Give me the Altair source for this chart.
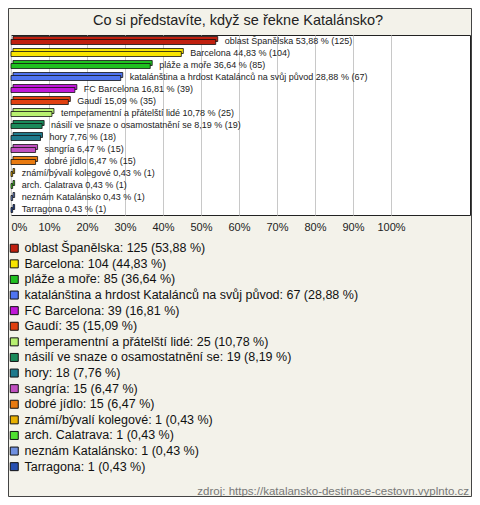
import altair as alt
import pandas as pd

categories = ["oblast Španělska", "Barcelona", "pláže a moře",
              "katalánština a hrdost Katalánců na svůj původ", "FC Barcelona", "Gaudí",
              "temperamentní a přátelští lidé", "násilí ve snaze o osamostatnění se", "hory",
              "sangría", "dobré jídlo", "známí/bývalí kolegové", "arch. Calatrava",
              "neznám Katalánsko", "Tarragona"]
counts = [125, 104, 85, 67, 39, 35, 25, 19, 18, 15, 15, 1, 1, 1, 1]
percents = [53.88, 44.83, 36.64, 28.88, 16.81, 15.09, 10.78, 8.19, 7.76, 6.47, 6.47,
            0.43, 0.43, 0.43, 0.43]
colors = ["#c0200f", "#f8e400", "#20c020", "#4f74f0", "#c018d8", "#e04010", "#b8f070",
          "#1a8a5a", "#1f7a8c", "#c050c0", "#e87a10", "#e8b000", "#50e030", "#7090e0",
          "#2850b0"]
tick_values = [0, 10, 20, 30, 40, 50, 60, 70, 80, 90, 100]
title_text = "Co si představíte, když se řekne Katalánsko?"
source_text = "zdroj: https://katalansko-destinace-cestovn.vyplnto.cz"

def fmt(p):
    return f"{p:.2f}".replace(".", ",")

df = pd.DataFrame({
    "cat": categories,
    "count": counts,
    "pct": percents,
    "label": [f"{c} {fmt(p)} % ({n})" for c, p, n in zip(categories, percents, counts)],
    "legend": [f"{c}: {n} ({fmt(p)} %)" for c, p, n in zip(categories, percents, counts)],
})

FONT = "Liberation Sans"
W, H = 459, 180

x_enc = alt.X("pct:Q", scale=alt.Scale(domain=[0, 120.8], nice=False, zero=True),
              axis=alt.Axis(values=tick_values, labelExpr="datum.value + '%'", title=None,
                            ticks=False, domain=False, grid=True, gridColor="#c8c8c8",
                            gridWidth=1, labelFontSize=11, labelFont=FONT,
                            labelColor="#222", labelPadding=6))
y_enc = alt.Y("cat:N", sort=categories, axis=None)
legend = alt.Legend(title=None, orient="none", legendX=-3, legendY=207,
                    symbolType="square", symbolSize=64, symbolStrokeColor="#111",
                    symbolStrokeWidth=1, symbolOpacity=1, labelFontSize=12.5,
                    labelFont=FONT, labelColor="#111", labelLimit=600,
                    rowPadding=2.6, labelOffset=4, padding=0)
color_enc = alt.Color("legend:N", scale=alt.Scale(domain=df["legend"].tolist(), range=colors),
                      sort=df["legend"].tolist(), legend=legend)

base = alt.Chart(df)
back = base.mark_bar(height=5, xOffset=2, yOffset=-2, stroke="#111", strokeWidth=0.8,
                     opacity=1).encode(x=x_enc, y=y_enc, color=color_enc)
front = base.mark_bar(height=5, yOffset=1, stroke="#111", strokeWidth=0.8,
                      opacity=1).encode(x=x_enc, y=y_enc, color=color_enc)
labels = base.mark_text(align="left", baseline="middle", dx=9, fontSize=9, font=FONT,
                        color="#222").encode(x=x_enc, y=y_enc, text="label:N")

src = alt.Chart(pd.DataFrame({"t": [source_text]})).mark_text(
    align="right", baseline="middle", fontSize=11.5, font=FONT, color="#777"
).encode(x=alt.value(458), y=alt.value(457), text="t:N")

ttl = alt.Chart(pd.DataFrame({"t": [title_text]})).mark_text(
    align="center", baseline="middle", fontSize=14.5, font=FONT, color="#222"
).encode(x=alt.value(227), y=alt.value(-14), text="t:N")

border = alt.Chart(pd.DataFrame({"a": [0]})).mark_rect(
    fill=None, fillOpacity=0, stroke="#444", strokeWidth=1
).encode(x=alt.value(-2.5), x2=alt.value(460.5), y=alt.value(-26.5), y2=alt.value(461.5))

chart = alt.layer(back, front, labels, src, ttl, border).properties(
    width=W, height=H,
    autosize=alt.AutoSizeParams(type="none"),
    padding={"left": 3, "top": 27, "right": 2, "bottom": 282},
    background="#f3f2ea",
).configure_view(fill="white", stroke="#222", strokeWidth=1)

chart.save("out.html", embed_options={"renderer": "svg", "actions": False})
